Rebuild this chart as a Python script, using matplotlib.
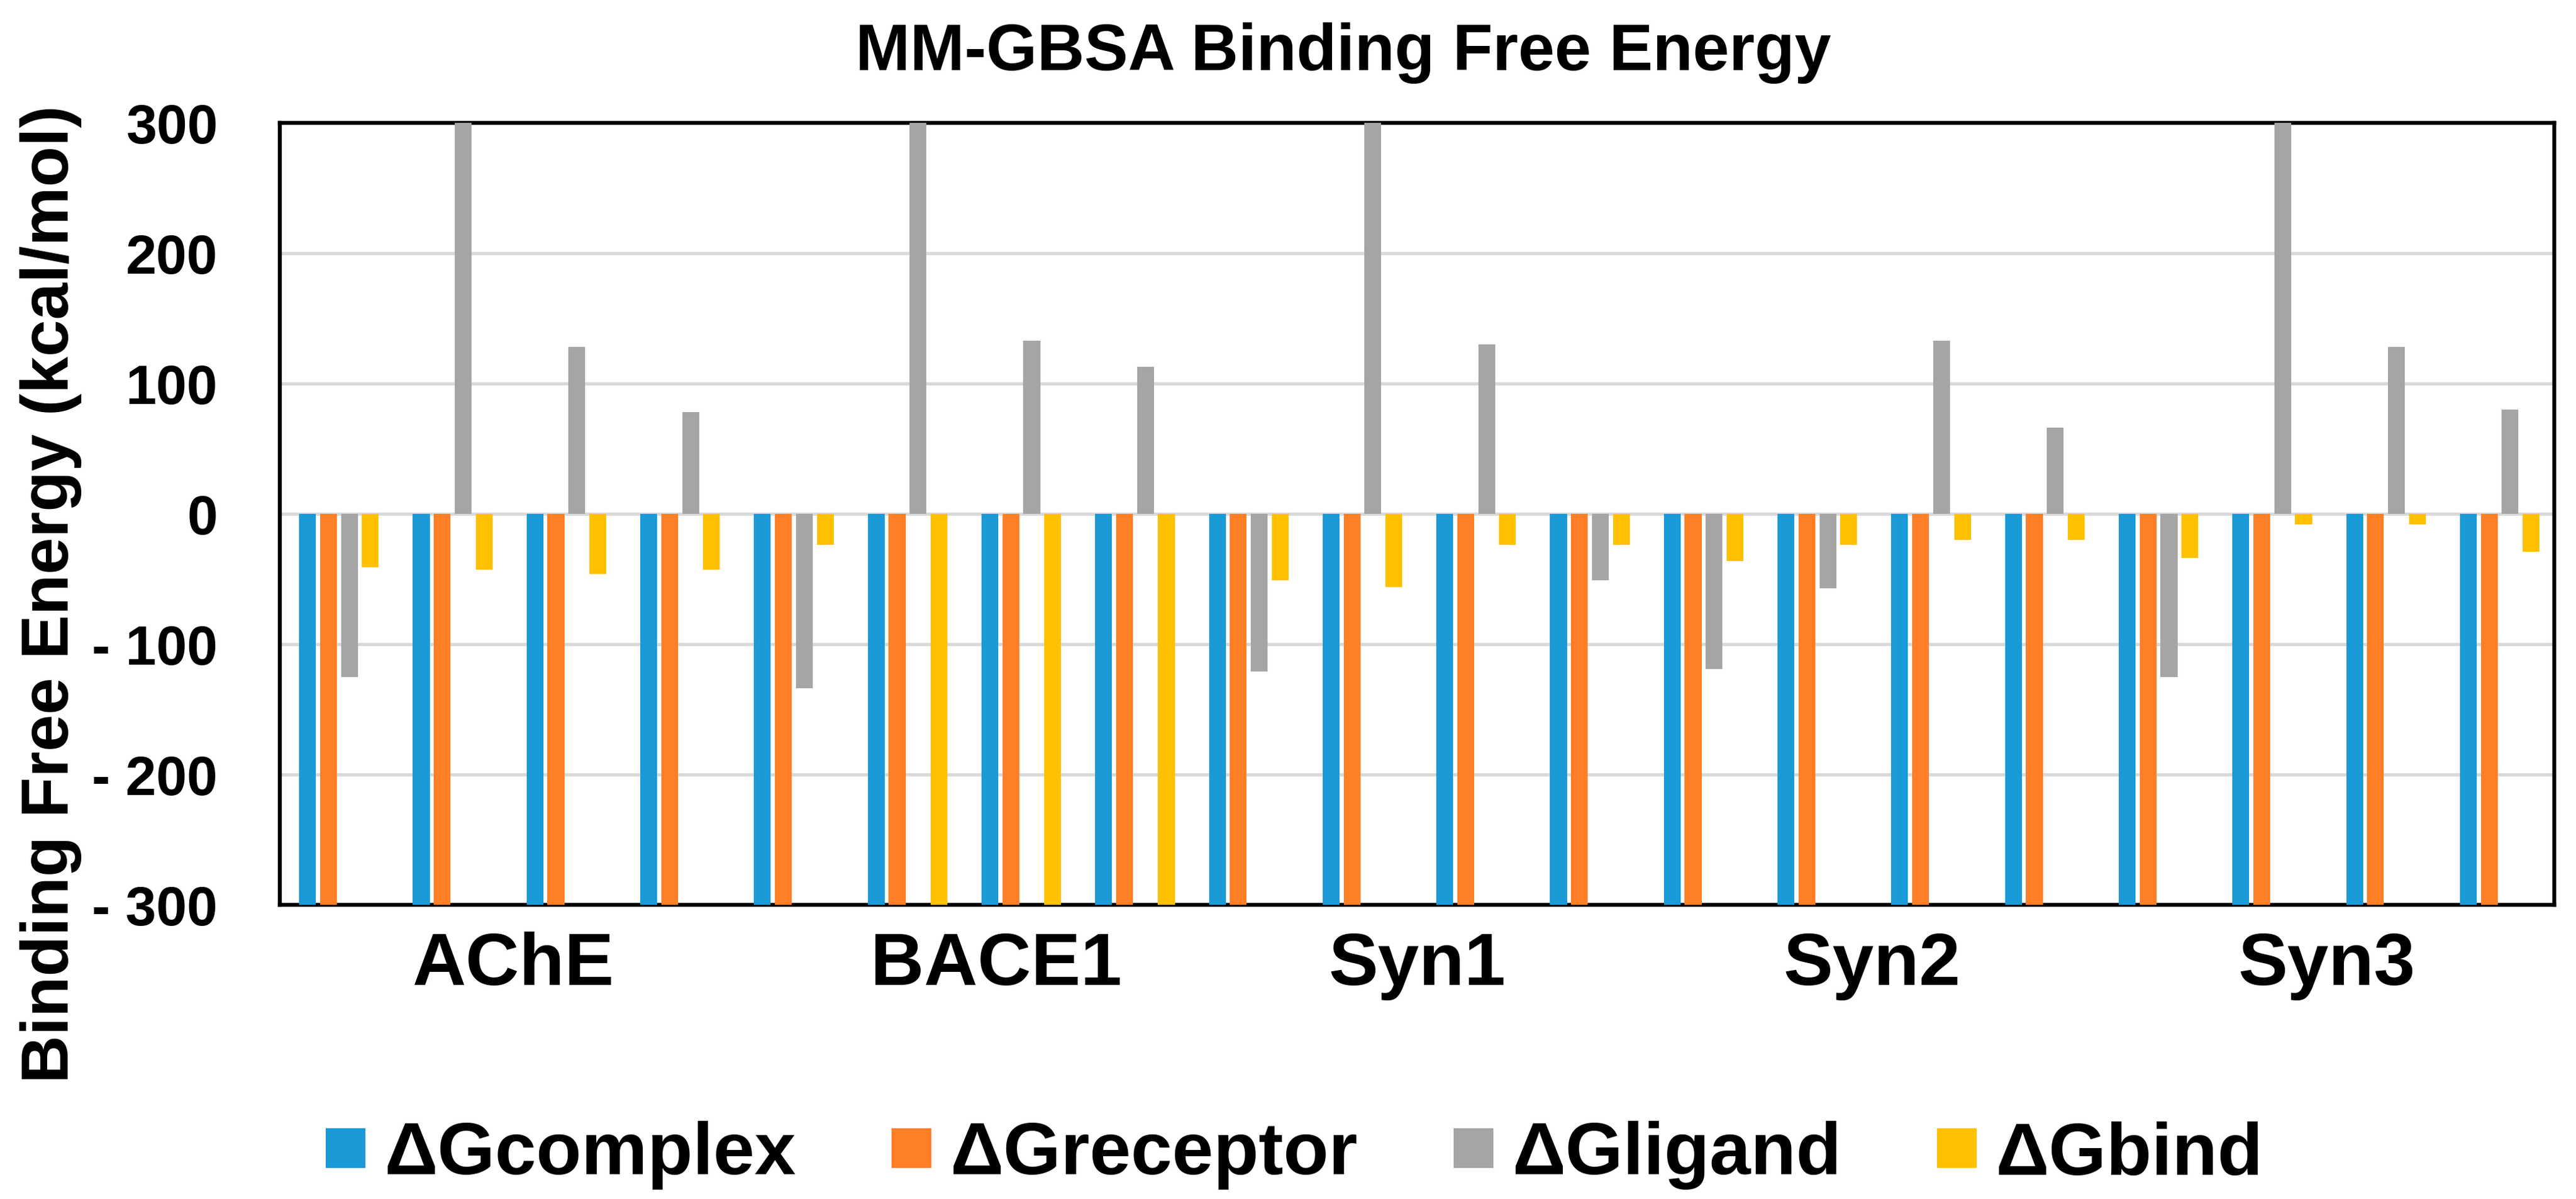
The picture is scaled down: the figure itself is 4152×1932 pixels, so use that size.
import matplotlib
matplotlib.use("Agg")
import matplotlib.pyplot as plt
from matplotlib import font_manager
from matplotlib.lines import Line2D
from matplotlib.ticker import FuncFormatter
import numpy as np

# Data. Bars that run past the +/-300 frame are stored
# with an off-scale value; the axis limits clip them like the original.
targets = ["AChE", "BACE1", "Syn1", "Syn2", "Syn3"]
series = ["ΔGcomplex", "ΔGreceptor", "ΔGligand", "ΔGbind"]
colors = ["#1a9ad6", "#ff7f27", "#a5a5a5", "#ffc000"]

g_complex = [-400, -400, -400, -400, -400, -400, -400, -400, -400, -400,
             -400, -400, -400, -400, -400, -400, -400, -400, -400, -400]
g_receptor = [-400, -400, -400, -400, -400, -400, -400, -400, -400, -400,
              -400, -400, -400, -400, -400, -400, -400, -400, -400, -400]
g_ligand = [-125, 320, 128, 78, -134, 320, 133, 113, -121, 320,
            130, -51, -119, -57, 133, 66, -125, 320, 128, 80]
g_bind = [-41, -43, -46, -43, -24, -320, -320, -320, -51, -56,
          -24, -24, -36, -24, -20, -20, -34, -8, -8, -29]

y_ticks = [-300, -200, -100, 0, 100, 200, 300]

installed = {f.name for f in font_manager.fontManager.ttflist}
main_font = "Liberation Sans" if "Liberation Sans" in installed else "DejaVu Sans"
narrow_font = "Liberation Sans Narrow" if "Liberation Sans Narrow" in installed else main_font

plt.rcParams.update({
    "font.family": [main_font, "DejaVu Sans"],
    "font.weight": "bold",
})

W, H, DPI = 4152, 1933, 200
fig = plt.figure(figsize=(W / DPI, H / DPI), dpi=DPI, facecolor="white")
ax = fig.add_axes([451 / W, 1 - 1459 / H, (4117 - 451) / W, (1459 - 199) / H])

n_groups = len(g_ligand)
x = np.arange(n_groups)
step = 0.184
width = 0.148
all_values = [g_complex, g_receptor, g_ligand, g_bind]
for i, (vals, color) in enumerate(zip(all_values, colors)):
    ax.bar(x + (i - 1.5) * step + 0.02, vals, width=width, color=color,
           linewidth=0, zorder=3)

ax.set_xlim(-0.5, n_groups - 0.5)
ax.set_ylim(-300, 300)

# gridlines incl. the zero line, Excel style
for yv in [-200, -100, 0, 100, 200]:
    ax.axhline(yv, color="#d9d9d9", linewidth=1.9, zorder=1)

ax.set_yticks(y_ticks)
ax.yaxis.set_major_formatter(FuncFormatter(
    lambda v, _: f"- {abs(int(v))}" if v < 0 else f"{int(v)}"))
ax.tick_params(axis="y", length=0, pad=36, labelsize=32)
for lab in ax.get_yticklabels():
    lab.set_fontfamily([narrow_font, "DejaVu Sans"])
    lab.set_fontweight("bold")

# category labels sit under each block of four groups (BACE1 nudged right as in the original)
per_target = n_groups // len(targets)
label_shift = [0.05, 0.3, 0.0, 0.0, 0.0]
ax.set_xticks([per_target * k + (per_target - 1) / 2 + label_shift[k]
               for k in range(len(targets))])
ax.set_xticklabels(targets, fontsize=43, fontweight="bold")
ax.tick_params(axis="x", length=0, pad=15)

for side in ["top", "bottom", "left", "right"]:
    ax.spines[side].set_linewidth(2.3)
    ax.spines[side].set_color("black")

fig.text(2165 / W, 1 - 113 / H, "MM-GBSA Binding Free Energy", fontsize=38,
         fontweight="bold", ha="center", va="baseline")
fig.text(82 / W, 1 - 957 / H, "Binding Free Energy (kcal/mol)", fontsize=38.5,
         fontweight="bold", rotation=90, ha="center", va="center")

handles = [Line2D([], [], marker="s", linestyle="none", markersize=22.7,
                  markerfacecolor=c, markeredgewidth=0) for c in colors]
fig.legend(handles, series, loc="center", bbox_to_anchor=(2084 / W, 1 - 1862 / H),
           ncol=4, frameon=False, fontsize=43, handlelength=0.6,
           handletextpad=0.22, columnspacing=1.26)

fig.savefig("out.png", dpi=DPI, facecolor="white")
